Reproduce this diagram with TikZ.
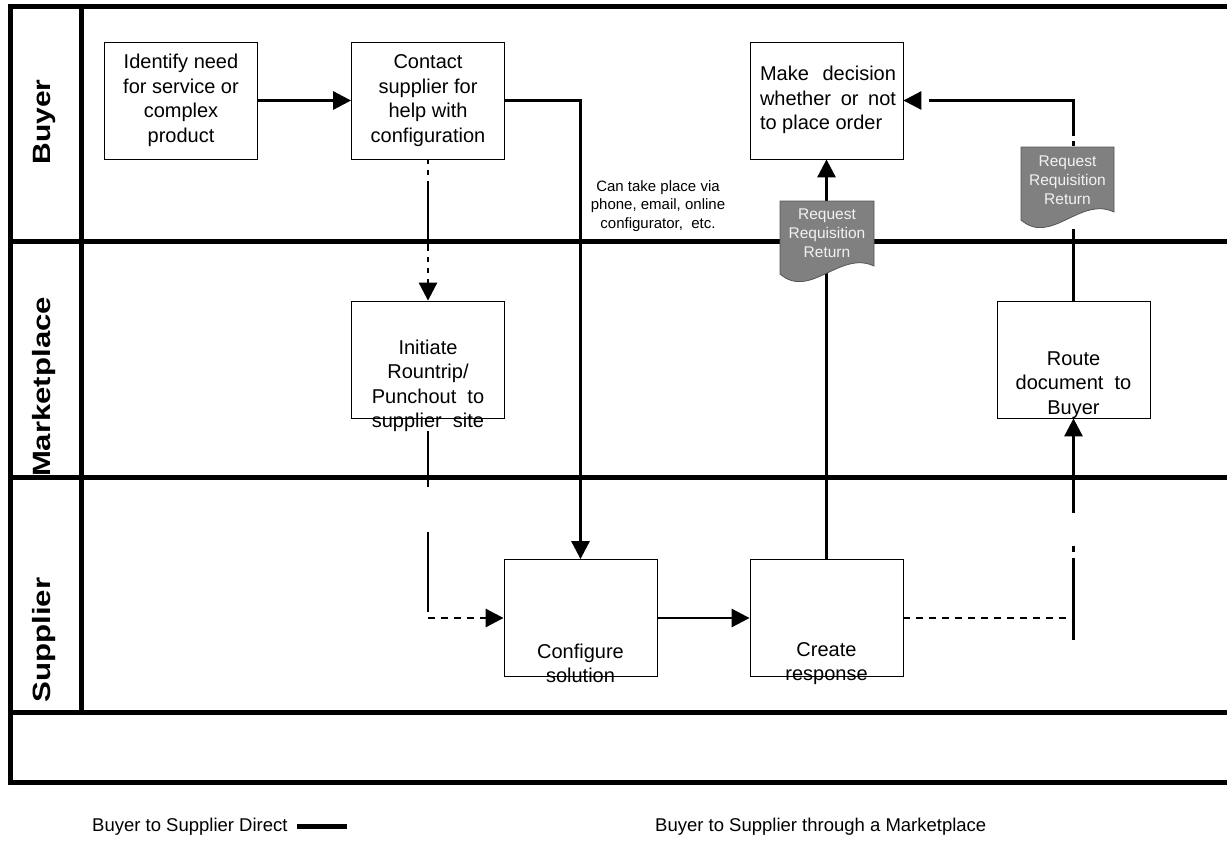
\documentclass[tikz,border=0pt]{standalone}
\usepackage{fontspec}
\setmainfont{Liberation Sans}
\usetikzlibrary{arrows.meta}
\definecolor{docgray}{RGB}{128,128,128}
\definecolor{docedge}{RGB}{85,85,85}
\definecolor{doctxt}{RGB}{242,242,242}
\begin{document}
\begin{tikzpicture}[x=1pt,y=-1pt,
  lane/.style={line width=5pt},
  box/.style={draw=black, line width=0.8pt, minimum width=153pt, minimum height=117pt, inner sep=0pt, fill=white},
  boxtext/.style={font=\fontsize{20}{24.5}\selectfont, align=center, inner sep=0pt},
  conn/.style={line width=2.9pt, draw=black},
  tip/.style={-{Triangle[length=18pt,width=18pt]}},
  dotline/.style={dash pattern=on 7pt off 6pt},
  docbox/.style={fill=docgray, draw=docedge, line width=0.8pt},
  doctext/.style={text=doctxt, font=\fontsize{15.5}{19}\selectfont, align=center, inner sep=0pt},
  notetext/.style={font=\fontsize{15}{18.5}\selectfont, align=center, inner sep=0pt},
  lanelabel/.style={font=\fontsize{25}{30}\bfseries\selectfont, rotate=90, inner sep=0pt},
  legend/.style={font=\fontsize{18.5}{22}\selectfont, inner sep=0pt}
]
\useasboundingbox (0,0) rectangle (1227,846);

% lane labels
\node[lanelabel] (lbuyer) at (44,122) {\scalebox{1.2}[1]{Buyer}};
\node[lanelabel] (lmarket) at (44,387) {\scalebox{1.245}[1]{Marketplace}};
\node[lanelabel] (lsupp) at (44,640) {\scalebox{1.25}[1]{Supplier}};

% frame and lanes
\draw[lane] (1227,6) -- (10.5,6) -- (10.5,782) -- (1227,782);
\draw[lane] (8,241) -- (1227,241);
\draw[lane] (8,477) -- (1227,477);
\draw[lane] (8,712) -- (1227,712);
\draw[lane] (81,6) -- (81,712);

% boxes
\node[box, boxtext] (ident) at (181,100.5) {Identify need\\for service or\\complex\\product};
\node[box, boxtext] (contact) at (428,100.5) {Contact\\supplier for\\help with\\configuration};
\node[box] (decision) at (826.5,100.5) {};
\node[boxtext, align=left] (decisionT) at (828,100) {\makebox[136pt][s]{Make decision}\\\makebox[136pt][s]{whether or not}\\to place order};
\node[box] (init) at (428,359.5) {};
\node[box] (route) at (1073.5,359.5) {};
\node[box] (conf) at (580.5,618) {};
\node[box] (create) at (826.5,618) {};

% connectors
\draw[conn, tip] (ident) -- (contact);
\draw[conn, tip] (contact.east) -| (conf.north);
\draw[conn, tip, dash pattern=on 70pt off 6pt on 5pt off 6pt on 5pt off 6pt, dash phase=76pt] (contact.south) -- (init.north);
\coordinate (lturn) at (428,612);
\coordinate (lstart) at (428,618);
\draw[conn, dash pattern=on 56pt off 45pt on 100pt] ([yshift=-13pt]init.south) -- (lturn);
\draw[conn, tip, dotline] (lstart) -- (conf.west);
\draw[conn, tip] (conf) -- (create);
\draw[conn, tip] (create) -- (decision);
\coordinate (rturn) at (1073.5,618);
\coordinate (rstart) at (1073.5,640);
\draw[conn, dotline] (create.east) -- (rturn);
\draw[conn, tip, dash pattern=on 82pt off 6pt on 6pt off 33pt on 200pt] (rstart) -- (route.south);
\draw[conn, tip, dash pattern=on 72pt off 83pt on 5pt off 5pt on 180pt off 40pt] (route.north) |- (decision.east);

% box texts placed low
\node[boxtext] (initT) at (428,386) {Initiate\\Rountrip/\\Punchout\ \ to\\supplier\ \ site};
\node[boxtext] (routeT) at (1073.5,385) {Route\\document\ \ to\\Buyer};
\node[boxtext] (confT) at (580.5,663.5) {Configure\\solution};
\node[boxtext] (createT) at (826.5,663.5) {Create\\response};

% documents
\begin{scope}[shift={(780,201)}]
\path[docbox] (0,0) -- (94,0) -- (94,65) .. controls (60,49) and (30,99) .. (0,73) -- cycle;
\end{scope}
\node[doctext] (doc1) at (827,233) {Request\\Requisition\\Return};
\begin{scope}[shift={(1021,147)}]
\path[docbox] (0,0) -- (93,0) -- (93,65) .. controls (59,49) and (30,99) .. (0,73) -- cycle;
\end{scope}
\node[doctext] (doc2) at (1067.5,180) {Request\\Requisition\\Return};

% note
\node[notetext] (note) at (658,206) {Can take place via\\phone, email, online\\configurator,\ \ etc.};

% legend
\node[legend, anchor=west] (leg1) at (92,827) {Buyer to Supplier Direct};
\coordinate (legA) at (297,826);
\coordinate (legB) at (347,826);
\draw[line width=5pt] (legA) -- (legB);
\node[legend, anchor=west] (leg2) at (655,827) {Buyer to Supplier through a Marketplace};
\end{tikzpicture}
\end{document}
